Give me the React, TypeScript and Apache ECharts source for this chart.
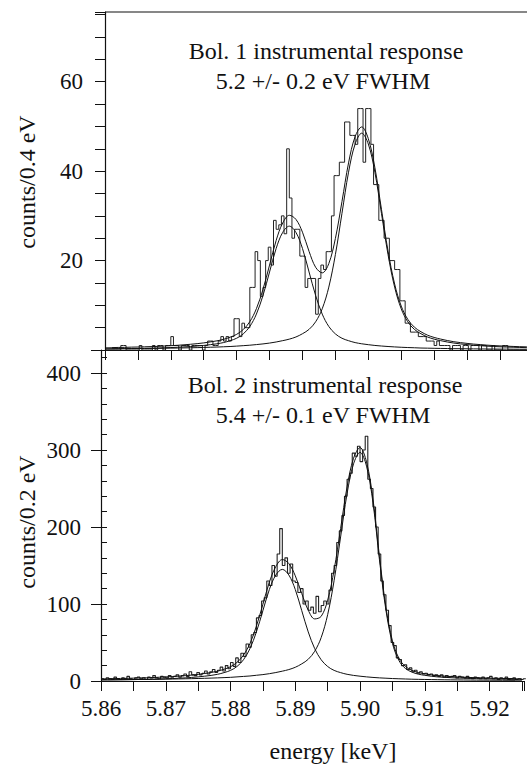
import React, { useEffect, useRef } from "react";
import * as echarts from "echarts";

// ---------- data ----------
const E0 = 5.86; // keV, left end of both energy axes
// fit curves are sampled every 0.001 keV from 5.860 keV
const FIT_STEP = 0.001;
// histogram bin width (keV) used for drawing both spectra
const BIN_W = 0.0004;

// Bol. 1 (counts / 0.4 eV)
const topCounts = [
  0, 0, 0, 0, 0, 0, 1, 1, 0, 0,
  0, 0, 0, 1, 0, 0, 0, 0, 1, 0,
  1, 1, 0, 1, 1, 3, 1, 1, 0, 1,
  1, 1, 0, 1, 1, 1, 1, 0, 1, 2,
  2, 1, 1, 2, 3, 2, 3, 2, 3, 7,
  7, 3, 6, 5, 5, 14, 14, 22, 20, 12,
  14, 20, 23, 19, 29, 27, 28, 30, 26, 45,
  34, 25, 27, 27, 21, 21, 14, 16, 16, 16,
  8, 16, 19, 18, 22, 22, 30, 39, 39, 42,
  42, 51, 51, 48, 48, 46, 54, 54, 42, 54,
  54, 46, 37, 37, 29, 29, 25, 25, 20, 20,
  18, 18, 11, 11, 6, 6, 4, 4, 4, 3,
  3, 3, 2, 2, 2, 1, 2, 1, 1, 1,
  1, 0, 1, 1, 1, 0, 1, 1, 0, 1,
  1, 1, 0, 1, 1, 0, 0, 1, 0, 0,
  0, 1, 1, 0, 0, 0, 0, 0, 0, 0,
  0,
];
const topFitTotal = [
  0.51, 0.54, 0.57, 0.59, 0.64, 0.67, 0.71, 0.76, 0.81, 0.89,
  0.97, 1.05, 1.16, 1.28, 1.42, 1.59, 1.81, 2.05, 2.38, 2.86,
  3.5, 4.57, 6.33, 9.24, 13.55, 19.0, 24.5, 28.41, 30.13, 29.23,
  26.35, 22.06, 18.5, 17.25, 19.33, 24.94, 33.19, 41.85, 47.74, 49.89,
  47.27, 40.79, 31.45, 22.12, 14.76, 9.83, 6.86, 5.11, 4.08, 3.32,
  2.81, 2.44, 2.12, 1.85, 1.65, 1.48, 1.32, 1.21, 1.09, 0.99,
  0.92, 0.85, 0.8, 0.74, 0.7, 0.66,
];
const topFitKa2 = [
  0.25, 0.27, 0.29, 0.3, 0.33, 0.35, 0.38, 0.41, 0.44, 0.5,
  0.55, 0.61, 0.69, 0.78, 0.89, 1.02, 1.19, 1.39, 1.66, 2.08,
  2.63, 3.6, 5.26, 8.03, 12.19, 17.45, 22.71, 26.32, 27.7, 26.32,
  22.71, 17.45, 12.19, 8.03, 5.26, 3.6, 2.63, 2.08, 1.66, 1.39,
  1.19, 1.02, 0.89, 0.78, 0.69, 0.61, 0.55, 0.5, 0.44, 0.41,
  0.38, 0.35, 0.33, 0.3, 0.29, 0.27, 0.25, 0.24, 0.22, 0.21,
  0.2, 0.19, 0.18, 0.17, 0.17, 0.16,
];
const topFitKa1 = [
  0.26, 0.27, 0.28, 0.29, 0.31, 0.32, 0.33, 0.35, 0.37, 0.39,
  0.42, 0.44, 0.47, 0.5, 0.53, 0.57, 0.62, 0.66, 0.72, 0.78,
  0.87, 0.97, 1.07, 1.21, 1.36, 1.55, 1.79, 2.09, 2.43, 2.91,
  3.64, 4.61, 6.31, 9.22, 14.07, 21.34, 30.56, 39.77, 46.08, 48.5,
  46.08, 39.77, 30.56, 21.34, 14.07, 9.22, 6.31, 4.61, 3.64, 2.91,
  2.43, 2.09, 1.79, 1.55, 1.36, 1.21, 1.07, 0.97, 0.87, 0.78,
  0.72, 0.66, 0.62, 0.57, 0.53, 0.5,
];

// Bol. 2 (counts / 0.2 eV)
const botCounts = [
  3, 2, 4, 3, 2, 5, 3, 2, 4, 3,
  6, 3, 2, 4, 5, 3, 4, 2, 5, 4,
  7, 4, 3, 6, 5, 4, 7, 5, 6, 8,
  5, 7, 9, 6, 12, 8, 7, 11, 8, 10,
  13, 9, 12, 15, 11, 14, 18, 13, 20, 16,
  24, 19, 30, 24, 36, 32, 48, 44, 60, 63,
  82, 85, 104, 108, 130, 124, 150, 136, 165, 198,
  150, 160, 140, 152, 130, 128, 115, 120, 100, 104,
  92, 96, 88, 110, 90, 98, 104, 100, 118, 140,
  150, 180, 195, 215, 240, 262, 270, 296, 292, 305,
  285, 300, 318, 262, 250, 226, 200, 165, 130, 112,
  92, 72, 50, 46, 30, 28, 20, 21, 15, 17,
  12, 14, 10, 12, 9, 10, 8, 9, 7, 8,
  6, 8, 5, 7, 5, 6, 7, 4, 6, 5,
  4, 6, 4, 3, 5, 4, 3, 5, 3, 4,
  6, 3, 4, 2, 4, 3, 5, 2, 3, 4,
  2, 3, 2, 3,
];
const botFitTotal = [
  2.84, 2.98, 3.12, 3.29, 3.49, 3.71, 3.95, 4.2, 4.49, 4.9,
  5.31, 5.74, 6.33, 6.94, 7.7, 8.64, 9.74, 11.02, 12.77, 15.28,
  18.53, 24.2, 33.49, 48.58, 71.23, 99.67, 128.4, 148.74, 157.77, 152.6,
  136.72, 113.63, 92.02, 80.66, 83.98, 104.98, 144.46, 197.99, 252.24, 289.4,
  303.24, 284.57, 236.34, 161.46, 95.73, 52.19, 29.6, 18.91, 13.92, 11.05,
  9.39, 8.04, 7.01, 6.4, 5.79, 5.31, 4.92, 4.55, 4.27, 4.02,
  3.76, 3.5, 3.36, 3.21, 2.97, 2.83,
];
const botFitKa2 = [
  1.32, 1.41, 1.49, 1.6, 1.71, 1.84, 1.99, 2.15, 2.32, 2.61,
  2.9, 3.19, 3.63, 4.06, 4.64, 5.37, 6.24, 7.25, 8.7, 10.88,
  13.78, 18.85, 27.55, 42.05, 63.8, 91.35, 118.9, 137.75, 145, 137.75,
  118.9, 91.35, 63.8, 42.05, 27.55, 18.85, 13.78, 10.88, 8.7, 7.25,
  6.24, 5.37, 4.64, 4.06, 3.63, 3.19, 2.9, 2.61, 2.32, 2.15,
  1.99, 1.84, 1.71, 1.6, 1.49, 1.41, 1.32, 1.25, 1.17, 1.12,
  1.06, 1.0, 0.96, 0.91, 0.87, 0.83,
];
const botFitKa1 = [
  1.52, 1.57, 1.63, 1.69, 1.78, 1.87, 1.96, 2.05, 2.17, 2.29,
  2.41, 2.55, 2.7, 2.88, 3.06, 3.27, 3.5, 3.77, 4.07, 4.4,
  4.75, 5.35, 5.94, 6.53, 7.43, 8.32, 9.5, 10.99, 12.77, 14.85,
  17.82, 22.28, 28.22, 38.61, 56.43, 86.13, 130.68, 187.11, 243.54, 282.15,
  297, 279.2, 231.7, 157.4, 92.1, 49.0, 26.7, 16.3, 11.6, 8.9,
  7.4, 6.2, 5.3, 4.8, 4.3, 3.9, 3.6, 3.3, 3.1, 2.9,
  2.7, 2.5, 2.4, 2.3, 2.1, 2.0,
];

const topTitle = ["Bol. 1 instrumental response", "5.2 +/- 0.2 eV FWHM"];
const botTitle = ["Bol. 2 instrumental response", "5.4 +/- 0.1 eV FWHM"];
const topYName = "counts/0.4 eV";
const botYName = "counts/0.2 eV";
const xName = "energy [keV]";

// ---------- helpers ----------
const FONT = "Liberation Serif";
const INK = "#111";

// axes are in eV above E0
const toEv = (keV: number) => Math.round((keV - E0) * 1e6) / 1e3;

const histData = (counts: number[]) => {
  const pts: number[][] = counts.map((c, k) => [toEv(E0 + k * BIN_W), c]);
  pts.push([toEv(E0 + counts.length * BIN_W), counts[counts.length - 1]]);
  return pts;
};
const fitData = (vals: number[]) =>
  vals.map((v, i) => [toEv(E0 + i * FIT_STEP), v]);

const axisLineStyle = { color: INK, width: 1.2 };

const textEl = (x: number, y: number, text: string, rotation = 0) => ({
  type: "text",
  x,
  y,
  rotation,
  silent: true,
  style: {
    text,
    fontSize: 24,
    fontFamily: FONT,
    fill: INK,
    textAlign: "center",
    textVerticalAlign: "middle",
  },
});

export default function App() {
  const ref = useRef<HTMLDivElement>(null);

  useEffect(() => {
    if (!ref.current) return;
    const chart = echarts.init(ref.current, undefined, { renderer: "svg" });

    const lineSeries = (
      data: number[][],
      xi: number,
      yi: number,
      extra: any = {}
    ) => ({
      type: "line",
      xAxisIndex: xi,
      yAxisIndex: yi,
      data,
      symbol: "none",
      silent: true,
      lineStyle: { color: INK, width: 1 },
      ...extra,
    });

    const isMult = (v: number, m: number) =>
      Math.abs(v - Math.round(v / m) * m) < 1e-6;

    const labelStyle = { fontSize: 23, fontFamily: FONT, color: INK };

    chart.setOption({
      animation: false,
      backgroundColor: "#fff",
      textStyle: { fontFamily: FONT },
      grid: [
        { left: 105, top: 12, width: 422, height: 338, containLabel: false },
        { left: 101, top: 350, width: 426, height: 331, containLabel: false },
      ],
      xAxis: [
        {
          gridIndex: 0,
          type: "value",
          min: 0,
          max: 64.11,
          interval: 5,
          axisLine: { show: true, onZero: false, lineStyle: axisLineStyle },
          axisTick: { show: true, length: 10, lineStyle: { color: INK, width: 1 } },
          axisLabel: { show: false },
          splitLine: { show: false },
        },
        {
          gridIndex: 1,
          type: "value",
          min: 0,
          max: 65.32,
          interval: 5,
          axisLine: { show: true, onZero: false, lineStyle: axisLineStyle },
          axisTick: { show: true, length: 10, lineStyle: { color: INK, width: 1 } },
          axisLabel: {
            show: true,
            margin: 16,
            ...labelStyle,
            formatter: (v: number) =>
              isMult(v, 10) ? (E0 + v / 1000).toFixed(2) : "",
          },
          splitLine: { show: false },
        },
      ],
      yAxis: [
        {
          gridIndex: 0,
          type: "value",
          min: 0,
          max: 75.6,
          interval: 5,
          axisLine: { show: true, onZero: false, lineStyle: axisLineStyle },
          axisTick: { show: true, length: 10, lineStyle: { color: INK, width: 1 } },
          axisLabel: {
            show: true,
            margin: 22,
            ...labelStyle,
            formatter: (v: number) =>
              v > 0 && v <= 60 && isMult(v, 20) ? String(Math.round(v)) : "",
          },
          splitLine: { show: false },
        },
        {
          gridIndex: 1,
          type: "value",
          min: 0,
          max: 430,
          interval: 100,
          axisLine: { show: true, onZero: false, lineStyle: axisLineStyle },
          axisTick: { show: true, length: 10, lineStyle: { color: INK, width: 1 } },
          axisLabel: {
            show: true,
            margin: 20,
            ...labelStyle,
            formatter: (v: number) =>
              v <= 400 && isMult(v, 100) ? String(Math.round(v)) : "",
          },
          splitLine: { show: false },
        },
        {
          gridIndex: 1,
          type: "value",
          min: 0,
          max: 430,
          interval: 20,
          axisLine: { show: false },
          axisTick: { show: true, length: 6, lineStyle: { color: INK, width: 1 } },
          axisLabel: { show: false },
          splitLine: { show: false },
        },
      ],
      series: [
        lineSeries(histData(topCounts), 0, 0, {
          step: "end",
          lineStyle: { color: "#222", width: 1 },
        }),
        lineSeries(fitData(topFitKa2), 0, 0, { smooth: 0.35 }),
        lineSeries(fitData(topFitKa1), 0, 0, { smooth: 0.35 }),
        lineSeries(fitData(topFitTotal), 0, 0, { smooth: 0.35 }),
        lineSeries(histData(botCounts), 1, 1, {
          step: "end",
          lineStyle: { color: "#222", width: 1.1 },
        }),
        lineSeries(fitData(botFitKa2), 1, 1, { smooth: 0.35 }),
        lineSeries(fitData(botFitKa1), 1, 1, { smooth: 0.35 }),
        lineSeries(fitData(botFitTotal), 1, 1, { smooth: 0.35 }),
      ],
      graphic: [
        {
          type: "line",
          silent: true,
          shape: { x1: 105, y1: 12, x2: 527, y2: 12 },
          style: { stroke: INK, lineWidth: 1.2 },
        },
        textEl(326, 51, topTitle[0]),
        textEl(323, 81, topTitle[1]),
        textEl(325, 385, botTitle[0]),
        textEl(323, 415, botTitle[1]),
        textEl(27, 182, topYName, Math.PI / 2),
        textEl(27, 522, botYName, Math.PI / 2),
        textEl(333, 751, xName),
      ],
    });

    return () => chart.dispose();
  }, []);

  return (
    <div
      ref={ref}
      style={{
        position: "absolute",
        left: 0,
        top: 0,
        width: 527,
        height: 764,
        background: "#fff",
      }}
    />
  );
}
